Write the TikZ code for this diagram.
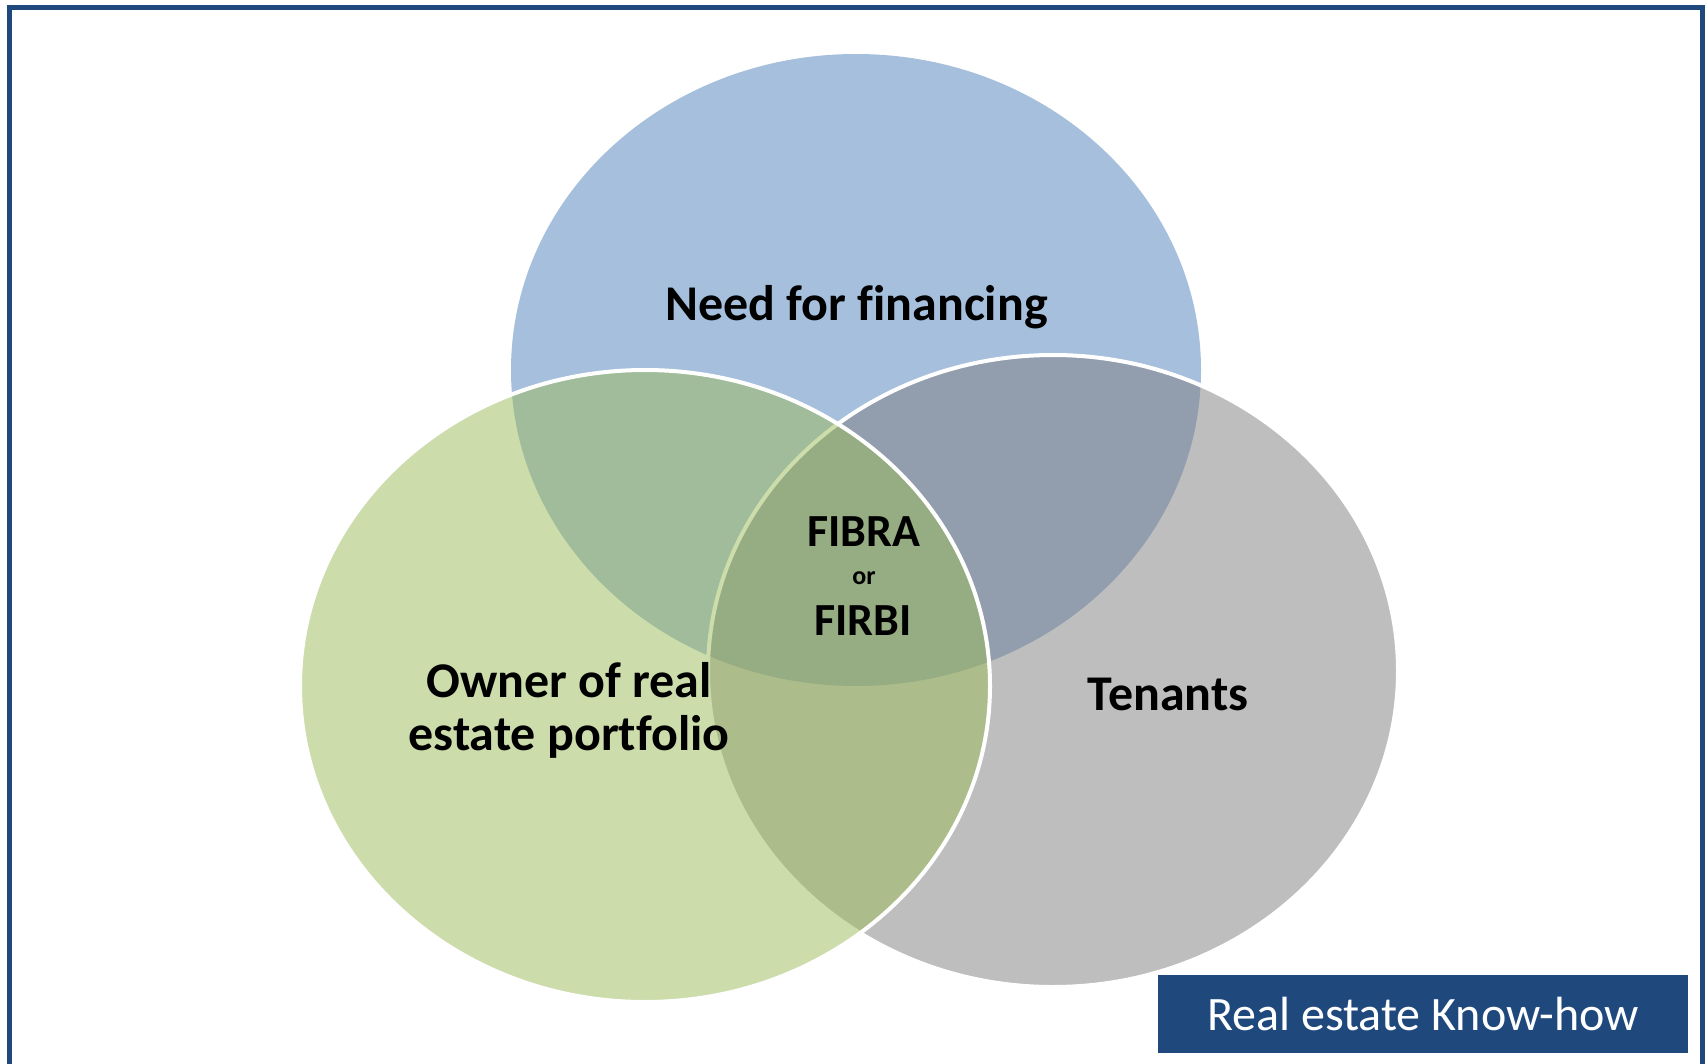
\documentclass[tikz,border=0pt]{standalone}
\usepackage{fontspec}
\setmainfont{Carlito}[Ligatures=NoCommon]
\usepackage{tikz}

\definecolor{finblue}{HTML}{4F81BD}
\definecolor{ownergreen}{HTML}{9BBB59}
\definecolor{tenantgray}{HTML}{7F7F7F}
\definecolor{framenavy}{HTML}{1F497D}

\begin{document}
\begin{tikzpicture}[x=0.5pt,y=-0.5pt,
  venn/.style={fill=#1,fill opacity=0.5},
  rim/.style={draw=white,line width=2pt},
  lbl/.style={font=\bfseries\fontsize{25}{26.5}\selectfont,align=center,anchor=base,inner sep=0pt}]
\clip (0,0) rectangle (1708,1064);
\fill[white] (0,0) rectangle (1708,1064);
% outer frame, the bottom edge runs off the page
\draw[framenavy,line width=2.5pt] (9.5,7.5) rectangle (1702.5,1066);

% the three sets, financing first and owner on top
\def\rx{345}\def\ry{316}
\fill[venn=finblue] (856,370) ellipse [x radius=\rx,y radius=\ry];
\path[venn=tenantgray,rim] (1053,671) ellipse [x radius=\rx,y radius=\ry];
\path[venn=ownergreen,rim] (645,686) ellipse [x radius=\rx,y radius=\ry];

\node[lbl] (financing) at (856.5,321) {Need for financing};
\node[lbl] (owner) at (569,750) {Owner of real\\estate portfolio};
\node[lbl] (tenants) at (1168,710) {Tenants};

% overlap of all three
\node[lbl,font=\bfseries\fontsize{23}{24}\selectfont] (fibra) at (864,546) {FIBRA};
\node[lbl,font=\bfseries\fontsize{13}{14}\selectfont] (orword) at (864,584) {or};
\node[lbl,font=\bfseries\fontsize{23}{24}\selectfont] (firbi) at (863,635) {FIRBI};

\node[fill=framenavy,text=white,minimum width=265pt,minimum height=39pt,
  font=\fontsize{24}{26}\selectfont] (knowhow) at (1423,1014) {Real estate Know-how};
\end{tikzpicture}
\end{document}
